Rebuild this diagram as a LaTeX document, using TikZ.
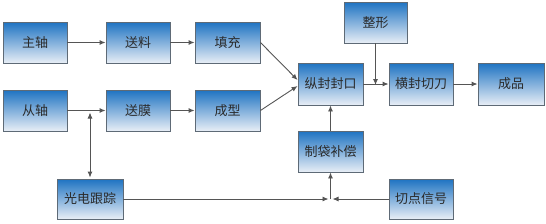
\documentclass[tikz,border=0pt]{standalone}
\usepackage{fontspec}
\setmainfont{Noto Sans CJK SC}
\usetikzlibrary{arrows.meta,shadows,calc}
\definecolor{boxtop}{HTML}{1E73C2}
\definecolor{boxbot}{HTML}{E8EEF6}
\definecolor{edge}{HTML}{5E6A76}
\definecolor{linec}{HTML}{555555}
\definecolor{txt}{HTML}{2A2A2A}
\tikzset{
  blk/.style={draw=edge, line width=0.9pt, top color=boxtop, bottom color=boxbot,
    minimum height=41pt, minimum width=64pt, inner sep=0pt,
    font=\fontsize{13}{13}\selectfont, text=txt,
    drop shadow={shadow xshift=1pt, shadow yshift=-1pt, opacity=0.25, fill=gray}},
  conn/.style={draw=linec, line width=0.9pt, -{Latex[length=6pt,width=5pt]}},
  dconn/.style={draw=linec, line width=0.9pt, {Latex[length=6pt,width=5pt]}-{Latex[length=6pt,width=5pt]}}
}
\begin{document}
\begin{tikzpicture}[x=1pt,y=-1pt]
\useasboundingbox (0,0) rectangle (546,223);
\node[blk] (zhu) at (35,42.5) {主轴};
\node[blk] (sl) at (138,42.5) {送料};
\node[blk, minimum width=65pt] (tc) at (227.5,42.5) {填充};
\node[blk] (cong) at (35,110.5) {从轴};
\node[blk] (sm) at (138,110.5) {送膜};
\node[blk, minimum width=65pt] (cx) at (227.5,110.5) {成型};
\node[blk, minimum width=63pt] (zx) at (375.5,22.5) {整形};
\node[blk, minimum width=65pt, minimum height=42pt] (zf) at (330.5,84) {纵封封口};
\node[blk, minimum height=42pt] (hf) at (421,84) {横封切刀};
\node[blk, minimum width=66pt, minimum height=42pt] (cp) at (511,84) {成品};
\node[blk, minimum width=66pt, minimum height=40pt] (gd) at (90,199) {光电跟踪};
\node[blk, minimum width=65pt] (zd) at (330.5,151.5) {制袋补偿};
\node[blk, minimum height=40pt] (qd) at (421,199) {切点信号};
\coordinate (K) at (90,110.5);
\coordinate (J) at (330.5,199);
\coordinate (M) at (375.5,84);
\draw[conn] (zhu) -- (sl);
\draw[conn] (sl) -- (tc);
\draw[conn] (cong) -- (sm);
\draw[conn] (sm) -- (cx);
\draw[conn] (tc.east) -- ($(zf.west)+(0,-4)$);
\draw[conn] (cx.east) -- ($(zf.west)+(0,2)$);
\draw[conn] (zf) -- (hf);
\draw[conn] (hf) -- (cp);
\draw[conn] (zx) -- ([yshift=-1pt]M);
\draw[conn] (zd) -- (zf);
\draw[dconn, shorten <=2pt, shorten >=1pt] (K) -- (gd);
\draw[conn, shorten >=2pt] (gd) -- (J);
\draw[conn, shorten >=2pt] (qd) -- (J);
\draw[conn] (J) -- (zd);
\end{tikzpicture}
\end{document}
